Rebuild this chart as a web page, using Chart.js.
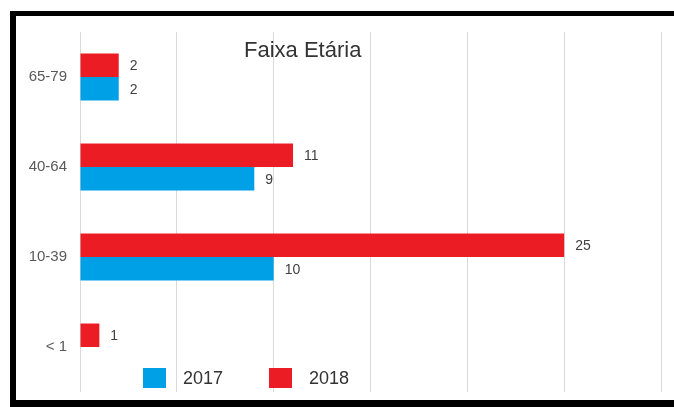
<!DOCTYPE html>
<html>
<head>
<meta charset="utf-8">
<script src="https://cdn.jsdelivr.net/npm/chart.js@4.4.0/dist/chart.umd.min.js"></script>
<style>
  body { margin: 0; background: #fff; }
  #grafico { position: absolute; left: 0; top: 0; }
  .borda { position: absolute; background: #000; }
</style>
</head>
<body>
<canvas id="grafico" width="674" height="407"></canvas>
<div class="borda" style="left:10px;top:11px;width:664px;height:5px"></div>
<div class="borda" style="left:10px;top:11px;width:6px;height:396px"></div>
<div class="borda" style="left:10px;top:400px;width:664px;height:7px"></div>
<script>
const faixas = ["65-79", "40-64", "10-39", "< 1"];
const valores2018 = [2, 11, 25, 1];
const valores2017 = [2, 9, 10, null];
const ticksX = [0, 5, 10, 15, 20, 25, 30];
const titulo = "Faixa Etária";

// rótulos de valor na ponta das barras
const rotulos = {
  id: "rotulos",
  afterDatasetsDraw(chart) {
    const ctx = chart.ctx;
    ctx.save();
    ctx.font = "14px 'Liberation Sans'";
    ctx.fillStyle = "#404040";
    ctx.textBaseline = "middle";
    chart.data.datasets.forEach((ds, i) => {
      chart.getDatasetMeta(i).data.forEach((barra, j) => {
        if (ds.data[j] == null) return;
        ctx.fillText(ds.data[j], barra.x + 11, barra.y + 1);
      });
    });
    ctx.restore();
  }
};

// titulo por cima da area do grafico
const tituloPlugin = {
  id: "tituloPlugin",
  afterDraw(chart) {
    const ctx = chart.ctx;
    ctx.save();
    ctx.font = "22px 'Liberation Sans'";
    ctx.fillStyle = "#333";
    ctx.textBaseline = "alphabetic";
    ctx.fillText(titulo, 244, 57);
    ctx.restore();
  }
};

// legenda 2017 / 2018 dentro do grafico, em baixo
const legenda = {
  id: "legenda",
  afterDraw(chart) {
    const ctx = chart.ctx;
    const ordem = [1, 0];
    const posX = [143, 269];
    ctx.save();
    ctx.font = "18px 'Liberation Sans'";
    ctx.textBaseline = "middle";
    ordem.forEach((i, k) => {
      const ds = chart.data.datasets[i];
      ctx.fillStyle = ds.backgroundColor;
      ctx.fillRect(posX[k], 368, 23, 20);
      ctx.fillStyle = "#333";
      ctx.fillText(ds.label, posX[k] + 40, 379);
    });
    ctx.restore();
  }
};

new Chart(document.getElementById("grafico"), {
  type: "bar",
  data: {
    labels: faixas,
    datasets: [
      {
        label: "2018",
        data: valores2018,
        backgroundColor: "#ec1c24",
        borderWidth: 0,
        categoryPercentage: 0.522,
        barPercentage: 1,
      },
      {
        label: "2017",
        data: valores2017,
        backgroundColor: "#00a0e6",
        borderWidth: 0,
        categoryPercentage: 0.522,
        barPercentage: 1,
      },
    ],
  },
  options: {
    indexAxis: "y",
    responsive: false,
    animation: false,
    layout: { padding: { left: 0, right: 13, top: 32, bottom: 15 } },
    plugins: {
      legend: { display: false },
      tooltip: { enabled: false },
      title: { display: false },
    },
    scales: {
      x: {
        min: ticksX[0],
        max: ticksX[ticksX.length - 1],
        afterBuildTicks: (scale) => {
          scale.ticks = ticksX.map((v) => ({ value: v }));
        },
        afterFit: (scale) => { scale.height = 0; },
        ticks: { display: false },
        grid: { color: "#d9d9d9", lineWidth: 1, drawTicks: false },
        border: { display: false },
      },
      y: {
        afterFit: (scale) => {
          scale.width = 80;
          scale.paddingTop = 0;
          scale.paddingBottom = 0;
        },
        ticks: {
          padding: 13,
          color: "#595959",
          font: { family: "'Liberation Sans'", size: 15 },
        },
        grid: { display: false, drawTicks: false },
        border: { display: false },
      },
    },
  },
  plugins: [rotulos, tituloPlugin, legenda],
});
</script>
</body>
</html>
